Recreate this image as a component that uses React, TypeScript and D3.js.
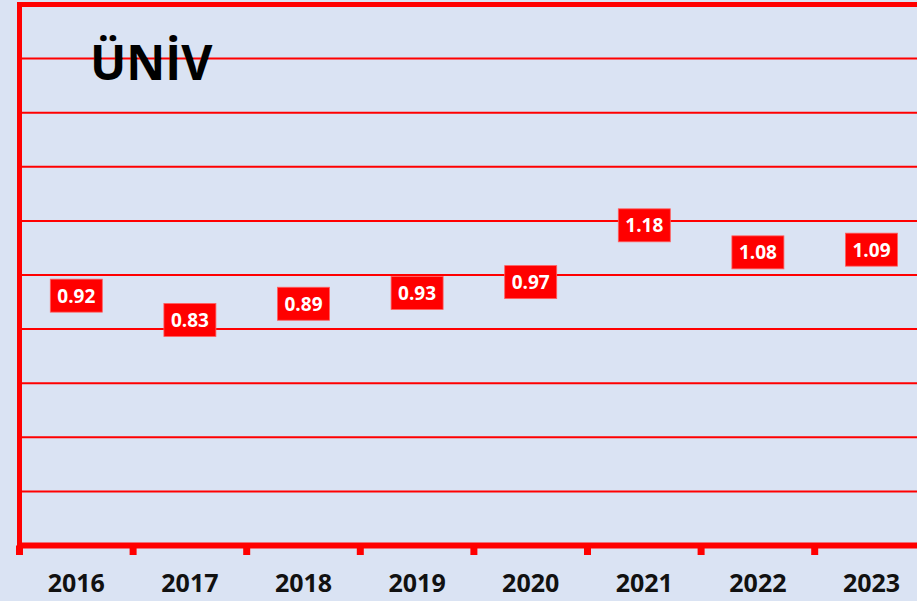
import React from "react";
import * as d3 from "d3";

const categories: string[] = ["2016", "2017", "2018", "2019", "2020", "2021", "2022", "2023"];
const values: number[] = [0.92, 0.83, 0.89, 0.93, 0.97, 1.18, 1.08, 1.09];
const yTicks: number[] = [0, 0.2, 0.4, 0.6, 0.8, 1.0, 1.2, 1.4, 1.6, 1.8, 2.0];
const valueLabels: string[] = ["0.92", "0.83", "0.89", "0.93", "0.97", "1.18", "1.08", "1.09"];
const title = "ÜNİV";

const W = 917;
const H = 601;
const RED = "#FF0000";
const BG = "#DAE3F3";

export default function App() {
  React.useEffect(() => {
    document.body.style.margin = "0";
  }, []);
  const x0 = 19.5;
  const step = 113.6;
  const x = d3.scaleBand<string>().domain(categories).range([x0, x0 + step * categories.length]).padding(0);
  const y = d3.scaleLinear().domain([0, 2]).range([545.5, 4.5]);
  const font = "'Open Sans', 'DejaVu Sans', sans-serif";
  const boundaries = d3.range(categories.length + 1).map((i) => x0 + i * x.step());

  return (
    <svg width={W} height={H} style={{ display: "block" }} fontFamily={font}>
      <rect x={0} y={0} width={W} height={H} fill={BG} />
      {yTicks.slice(1, -1).map((t) => (
        <line key={t} x1={x0} x2={W + 20} y1={y(t)} y2={y(t)} stroke={RED} strokeWidth={2} />
      ))}
      {/* top border */}
      <line x1={x0 - 2.5} x2={W + 20} y1={y(2)} y2={y(2)} stroke={RED} strokeWidth={5} />
      {/* left axis */}
      <line x1={x0} x2={x0} y1={y(2) - 2.5} y2={y(0) + 3} stroke={RED} strokeWidth={5} />
      {/* bottom axis */}
      <line x1={x0 - 2.5} x2={W + 20} y1={y(0)} y2={y(0)} stroke={RED} strokeWidth={6} />
      {boundaries.map((bx, i) => (
        <rect key={i} x={bx - 3.5} y={y(0)} width={7} height={9.5} fill={RED} />
      ))}
      <text x={90} y={80} fontSize={48} fontWeight={700} fill="#000">
        {title}
      </text>
      {categories.map((c) => (
        <text
          key={c}
          x={(x(c) as number) + x.bandwidth() / 2}
          y={592}
          textAnchor="middle"
          fontSize={25}
          fontWeight={700}
          fill="#111"
        >
          {c}
        </text>
      ))}
      {values.map((v, i) => {
        const cx = (x(categories[i]) as number) + x.bandwidth() / 2;
        const cy = y(v) - 1;
        return (
          <g key={i}>
            <rect x={cx - 26} y={cy - 16.5} width={52} height={33} fill={RED} stroke="#FF6060" strokeWidth={0.8} />
            <text x={cx} y={cy + 7} textAnchor="middle" fontSize={19} fontWeight={700} fill="#fff">
              {valueLabels[i]}
            </text>
          </g>
        );
      })}
    </svg>
  );
}
